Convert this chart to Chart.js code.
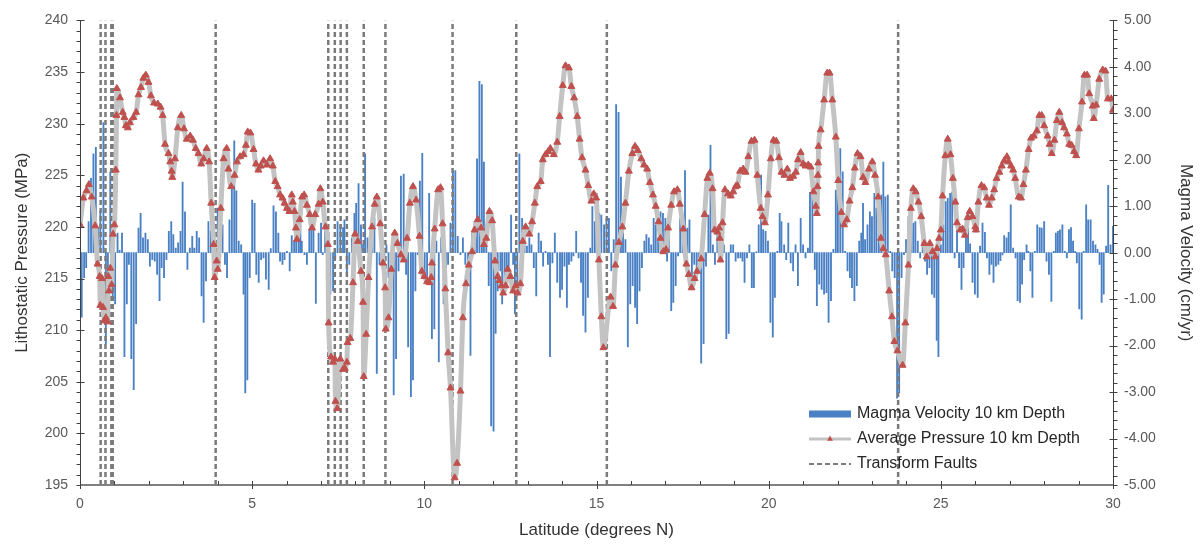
<!DOCTYPE html>
<html><head><meta charset="utf-8">
<script src="https://cdn.jsdelivr.net/npm/chart.js@4/dist/chart.umd.min.js"></script>
<style>html,body{margin:0;padding:0;background:#fff;}#wrap{width:1203px;height:548px;}</style>
</head><body><div id="wrap"><canvas id="c" width="1203" height="548"></canvas></div>
<script>
// ---------- DATA ----------
const xTicks = [0, 5, 10, 15, 20, 25, 30];
const pressureTicks = [195, 200, 205, 210, 215, 220, 225, 230, 235, 240];
const velocityTicks = [-5, -4, -3, -2, -1, 0, 1, 2, 3, 4, 5];

const seriesNames = ['Magma Velocity 10 km Depth', 'Average Pressure 10 km Depth', 'Transform Faults'];

// latitude (deg N) of transform faults
const faultLat = [0.60, 0.74, 0.91, 0.95, 3.94, 7.21, 7.40, 7.57, 7.75, 8.24, 8.87, 10.82, 12.67, 15.30, 23.76];

// [latitude, lithostatic pressure MPa]
const pressure = [
[0.00,220.2],[0.10,222.8],[0.19,223.5],[0.26,224.1],[0.34,222.9],[0.44,220.1],[0.51,216.4],[0.57,215.2],[0.59,212.4],[0.64,215.0],
[0.67,212.2],[0.71,210.9],[0.75,211.2],[0.80,210.8],[0.82,215.2],[0.84,213.8],[0.88,216.0],[0.92,214.4],[0.96,219.3],[1.00,220.2],
[1.04,225.5],[1.06,230.8],[1.07,233.4],[1.16,232.5],[1.24,231.1],[1.29,230.6],[1.33,229.8],[1.39,229.6],[1.45,230.1],[1.55,230.6],
[1.63,231.1],[1.70,232.8],[1.77,233.5],[1.84,234.4],[1.91,234.7],[1.99,234.0],[2.06,232.7],[2.15,232.0],[2.26,231.9],[2.34,231.6],
[2.40,230.8],[2.47,228.0],[2.57,227.1],[2.62,226.3],[2.66,225.4],[2.68,224.8],[2.76,226.6],[2.84,229.6],[2.94,230.8],[3.02,229.5],
[3.10,228.5],[3.20,228.8],[3.28,228.4],[3.36,227.6],[3.44,227.1],[3.52,226.1],[3.59,226.6],[3.68,227.6],[3.75,226.3],[3.81,222.3],
[3.88,218.3],[3.91,215.1],[3.97,216.7],[4.00,215.9],[4.09,221.8],[4.17,226.6],[4.26,227.6],[4.31,225.6],[4.39,223.9],[4.49,225.0],
[4.56,226.3],[4.65,226.8],[4.75,227.0],[4.82,227.9],[4.87,229.2],[4.95,229.1],
[5.04,227.5],[5.11,226.1],[5.18,225.5],[5.25,225.9],[5.33,226.4],[5.43,226.0],[5.52,226.6],[5.60,225.9],[5.67,224.4],[5.74,223.9],
[5.81,223.1],[5.88,222.8],[5.94,222.3],[6.01,221.8],[6.08,221.5],[6.15,223.1],[6.18,222.4],[6.23,221.5],[6.27,219.9],[6.30,218.8],
[6.38,220.7],[6.45,222.9],[6.51,223.1],[6.59,222.1],[6.67,221.2],[6.74,219.9],[6.83,221.2],[6.93,222.2],[6.98,223.7],[7.05,222.4],
[7.13,220.0],[7.20,218.3],[7.22,210.7],[7.29,207.4],[7.35,206.9],[7.40,207.2],[7.42,203.1],[7.47,202.4],[7.56,207.2],[7.64,206.2],
[7.69,206.3],[7.75,206.9],[7.77,208.8],[7.85,209.2],[7.93,214.6],[7.99,219.3],[8.07,218.6],[8.16,215.7],[8.22,212.7],[8.24,205.5],
[8.31,209.6],[8.38,215.1],[8.48,220.0],[8.56,222.2],[8.62,222.9],[8.72,220.3],[8.80,216.5],[8.86,214.1],[8.88,210.1],[8.96,211.2],
[9.04,215.9],[9.14,219.4],[9.22,218.4],[9.32,217.3],[9.40,216.8],[9.50,218.9],[9.58,222.3],[9.67,223.9],[9.76,222.6],[9.86,219.1],
[9.93,215.7],[10.00,215.2],[10.08,214.7],
[10.15,214.6],[10.20,215.1],[10.22,216.5],[10.30,219.8],[10.40,223.6],[10.47,223.8],[10.53,220.3],[10.61,214.0],[10.69,207.8],[10.76,204.4],
[10.88,195.7],[10.95,197.1],[11.05,204.1],[11.12,211.2],[11.21,214.5],[11.29,216.3],[11.39,217.6],[11.46,219.7],[11.55,220.7],[11.65,219.9],
[11.73,218.3],[11.80,218.9],[11.89,221.5],[11.97,220.6],[12.05,216.7],[12.13,215.2],[12.18,214.8],[12.24,214.3],[12.29,213.6],[12.36,214.3],
[12.42,215.9],[12.50,215.2],[12.58,213.8],[12.65,214.3],[12.71,213.6],[12.79,214.5],[12.86,218.6],[12.94,220.0],[13.05,219.3],[13.13,220.5],
[13.21,222.3],[13.28,223.9],[13.38,224.4],[13.44,226.5],[13.52,227.0],[13.60,227.3],[13.66,227.6],[13.76,227.0],[13.86,228.2],[13.93,230.7],
[14.02,233.7],[14.10,235.6],[14.20,235.4],[14.27,233.6],[14.35,232.5],[14.44,230.7],[14.51,228.5],[14.58,226.7],[14.68,225.5],[14.76,224.0],
[14.85,222.5],[14.92,223.2],[14.99,222.8],[15.07,216.8],[15.14,211.3],[15.20,208.3],
[15.41,213.2],[15.48,212.3],[15.55,216.3],[15.65,218.5],[15.75,220.0],[15.84,222.3],[15.94,225.4],[16.04,227.1],[16.12,227.8],[16.20,227.4],
[16.30,226.6],[16.38,226.0],[16.47,225.6],[16.55,224.3],[16.64,223.1],[16.72,222.0],[16.80,220.5],[16.86,218.9],[16.94,217.6],[17.02,217.8],
[17.08,219.9],[17.17,222.1],[17.25,223.4],[17.35,223.6],[17.42,222.2],[17.52,219.8],[17.61,216.4],[17.68,215.4],[17.76,214.1],[17.85,215.0],
[17.92,215.7],[18.04,216.9],[18.14,221.2],[18.22,224.7],[18.29,225.2],[18.37,223.7],[18.43,219.7],[18.51,219.5],[18.56,219.9],[18.58,218.9],
[18.60,216.8],[18.66,220.4],[18.73,223.6],[18.82,223.2],[18.90,223.0],[18.97,223.4],[19.04,223.9],[19.09,224.0],[19.17,225.4],[19.26,225.6],
[19.33,225.3],[19.41,226.8],[19.50,228.3],[19.59,228.4],[19.67,225.0],[19.77,221.8],[19.82,221.0],[19.89,220.4],[19.98,223.1],[20.06,226.6],
[20.14,228.4],[20.22,228.3],[20.30,226.7],
[20.37,225.3],[20.46,225.0],[20.54,225.6],[20.62,224.7],[20.71,224.9],[20.79,225.3],[20.85,226.5],[20.93,227.2],[21.00,226.1],[21.07,225.9],
[21.15,226.0],[21.22,225.8],[21.30,223.4],[21.37,222.0],[21.40,221.3],[21.42,223.9],[21.43,225.0],[21.44,226.2],[21.45,227.8],[21.51,229.4],
[21.61,232.3],[21.70,234.9],[21.77,234.9],[21.85,232.3],[21.95,228.7],[22.02,224.5],[22.11,221.4],[22.19,220.2],[22.27,220.7],[22.35,222.5],
[22.43,223.8],[22.50,225.7],[22.58,227.1],[22.67,226.8],[22.74,224.8],[22.81,224.3],[22.91,225.6],[23.01,226.3],[23.09,225.0],[23.18,222.9],
[23.26,218.9],[23.33,217.9],[23.40,217.3],[23.50,213.8],[23.58,211.3],[23.65,208.9],[23.74,208.0],[23.89,206.6],[23.97,210.7],[24.06,216.3],
[24.13,221.8],[24.20,223.7],[24.27,223.4],[24.35,222.4],[24.43,221.0],[24.52,218.4],[24.59,217.1],[24.68,218.4],[24.76,217.6],[24.84,217.1],
[24.89,217.9],[24.95,218.9],[25.00,219.7],[25.05,223.0],[25.13,226.9],[25.20,228.5],[25.28,227.0],[25.35,224.7],[25.42,222.4],
[25.47,220.4],[25.56,219.7],[25.63,219.8],[25.70,219.2],[25.78,220.9],[25.84,221.5],[25.92,221.0],[26.00,220.0],[26.02,219.7],[26.09,222.4],
[26.18,224.0],[26.26,223.8],[26.33,222.8],[26.40,222.1],[26.48,222.8],[26.55,223.6],[26.62,224.7],[26.70,225.3],[26.77,225.9],[26.84,226.4],
[26.92,226.8],[26.97,226.3],[27.04,225.9],[27.10,225.5],[27.16,224.7],[27.26,222.9],[27.33,222.8],[27.40,224.1],[27.47,225.5],[27.55,227.5],
[27.62,228.6],[27.70,228.8],[27.79,229.3],[27.86,230.8],[27.93,230.8],[28.00,229.8],[28.10,228.8],[28.16,228.0],[28.22,227.1],[28.30,228.4],
[28.37,230.3],[28.44,231.1],[28.52,230.1],[28.58,229.6],[28.66,229.0],[28.73,228.0],[28.80,227.9],[28.87,227.3],[28.93,226.9],[29.01,229.5],
[29.10,232.1],[29.17,234.7],[29.25,234.7],[29.31,232.9],[29.41,231.7],[29.44,230.5],[29.51,231.8],[29.60,234.3],[29.70,235.2],[29.78,235.1],
[29.85,232.4],[29.95,232.4],[30.00,231.3]
];

// [latitude, magma velocity cm/yr]
const velocity = [
[0.05,-1.39],[0.12,-0.54],[0.18,-0.32],[0.25,0.67],[0.32,1.60],[0.39,2.13],[0.46,2.27],[0.52,0.53],[0.59,0.90],[0.68,2.80],
[0.75,-1.96],[0.81,-1.25],[0.88,1.74],[0.95,-1.03],[1.02,-1.10],[1.09,0.42],[1.15,0.05],[1.22,0.42],[1.29,-2.24],[1.36,-1.10],
[1.42,-0.25],[1.49,-2.28],[1.56,-2.95],[1.63,-1.53],[1.70,0.53],[1.76,0.85],[1.83,0.32],[1.90,0.42],[1.97,0.28],[2.03,-0.29],
[2.10,-0.15],[2.17,-0.18],[2.24,-0.47],[2.31,-1.03],[2.37,-0.32],[2.44,-0.54],[2.51,-0.15],[2.58,0.46],[2.65,0.67],[2.71,0.39],
[2.78,0.10],[2.85,0.21],[2.92,0.46],[2.98,1.52],[3.05,0.88],[3.12,-0.36],[3.19,0.10],[3.26,0.35],[3.32,0.10],[3.39,0.46],
[3.46,0.32],[3.53,-0.93],[3.59,-1.50],[3.66,-0.61],[3.73,0.67],[3.80,0.47],[3.87,-0.54],[3.93,-0.25],[4.00,0.96],[4.07,0.17],
[4.14,0.60],[4.21,-0.25],[4.27,-0.54],[4.34,0.71],[4.41,1.38],[4.48,2.41],[4.54,1.33],[4.61,0.25],[4.68,0.17],[4.75,-0.89],
[4.80,-3.02],[4.86,-2.74],[4.93,-0.54],[5.00,1.13],[5.07,1.06],
[5.12,-0.47],[5.19,-0.64],[5.26,-0.15],[5.33,-0.11],[5.40,-0.57],[5.48,-0.79],[5.54,0.09],[5.62,1.01],[5.69,0.88],[5.76,0.42],
[5.81,-0.18],[5.88,-0.25],[5.94,-0.15],[6.01,0.03],[6.09,-0.39],[6.15,0.37],[6.22,0.25],[6.28,0.46],[6.35,0.25],[6.40,0.60],
[6.44,0.25],[6.52,-0.04],[6.59,-0.25],[6.66,0.49],[6.72,0.67],[6.78,0.53],[6.85,-1.09],[6.93,0.42],[7.00,0.64],[7.05,-0.04],
[7.12,0.96],[7.19,0.17],[7.27,-0.89],[7.35,-0.82],[7.41,-0.15],[7.48,0.67],[7.56,0.60],[7.64,0.54],[7.68,0.71],[7.75,-0.47],
[7.82,-0.25],[7.90,0.32],[7.97,0.85],[8.02,1.06],[8.09,1.49],[8.16,0.60],[8.22,0.17],[8.28,2.13],[8.35,0.32],[8.41,-0.50],
[8.48,0.49],[8.55,0.74],[8.62,-2.60],[8.70,-0.25],[8.77,0.53],[8.84,-0.32],[8.90,0.17],[8.96,-0.54],[9.03,-0.29],[9.11,-3.06],
[9.18,-2.28],[9.25,-0.39],[9.32,1.65],[9.40,1.69],[9.47,-0.47],[9.53,-2.03],[9.61,-3.10],[9.67,-2.74],[9.74,-0.82],[9.81,-0.04],
[9.87,1.54],[9.94,2.14],[10.01,-0.47],[10.08,-0.61],[10.14,1.28],
[10.22,-1.85],[10.29,-1.64],[10.35,0.25],[10.42,-2.35],[10.49,0.32],[10.56,-1.10],[10.63,-0.39],[10.69,-0.25],[10.76,0.64],[10.83,1.77],
[10.90,1.77],[10.97,0.35],[11.05,-0.04],[11.12,0.32],[11.19,-0.25],[11.27,-0.43],[11.34,-2.21],[11.39,0.42],[11.46,0.67],[11.53,2.02],
[11.60,3.69],[11.67,3.62],[11.73,1.95],[11.80,0.60],[11.87,-0.71],[11.94,-3.73],[12.01,-3.84],[12.07,-1.74],[12.13,-0.82],[12.21,-0.39],
[12.26,-1.10],[12.33,-0.82],[12.39,-0.47],[12.45,-0.32],[12.52,0.81],[12.58,-0.25],[12.63,-1.32],[12.70,-0.93],[12.76,2.13],[12.84,0.74],
[12.91,0.46],[12.98,0.14],[13.05,0.32],[13.11,0.17],[13.18,-0.32],[13.25,-0.93],[13.32,0.42],[13.39,0.25],[13.45,-0.29],[13.52,0.03],
[13.59,-0.25],[13.65,-2.24],[13.72,-0.22],[13.79,0.42],[13.86,-0.64],[13.94,-0.96],[14.00,-0.79],[14.07,-0.29],[14.14,-1.18],[14.20,-0.25],
[14.27,-0.18],[14.33,-0.07],[14.41,0.46],[14.48,-0.11],[14.55,-0.64],[14.61,-1.35],[14.68,-1.71],[14.75,-0.96],[14.82,0.10],[14.88,0.99],
[14.95,0.67],[15.01,1.28],[15.08,0.85],[15.14,0.81],[15.22,0.60],
[15.29,0.74],[15.36,0.74],[15.43,-0.39],[15.50,0.28],[15.57,3.19],[15.64,3.02],[15.71,1.63],[15.77,0.50],[15.84,0.28],[15.91,-2.03],
[15.98,-1.10],[16.05,-0.71],[16.12,-1.18],[16.18,-1.53],[16.25,-0.82],[16.32,-0.32],[16.39,0.25],[16.45,0.39],[16.52,0.32],[16.59,0.17],
[16.66,0.74],[16.72,0.60],[16.79,0.32],[16.86,0.88],[16.93,0.85],[17.00,0.74],[17.05,-0.18],[17.10,0.60],[17.17,-1.25],[17.23,-1.07],
[17.30,-0.71],[17.37,-0.07],[17.43,0.74],[17.50,0.53],[17.57,1.77],[17.64,0.53],[17.70,0.71],[17.77,-0.68],[17.84,-0.25],[17.91,-0.54],
[17.98,-0.10],[18.04,-2.38],[18.11,-1.96],[18.18,-0.29],[18.25,0.81],[18.31,2.31],[18.38,0.17],[18.44,-0.25],[18.51,0.46],[18.58,0.03],
[18.64,0.42],[18.70,0.17],[18.77,-1.85],[18.84,-1.74],[18.90,0.17],[18.97,0.17],[19.04,-0.18],[19.11,-0.11],[19.18,-0.11],[19.24,-0.18],
[19.30,-0.64],[19.37,-0.11],[19.44,0.17],[19.51,-0.75],[19.57,-0.75],[19.64,0.02],[19.71,0.60],[19.78,1.67],[19.84,0.50],[19.91,0.46],
[19.98,0.25],[20.05,-1.50],[20.12,-1.82],[20.18,-0.96],[20.25,0.03],[20.32,0.85],
[20.37,0.67],[20.45,0.17],[20.51,-0.15],[20.57,0.64],[20.64,-0.22],[20.71,-0.39],[20.78,0.17],[20.85,-0.71],[20.93,0.74],[21.00,0.17],
[21.07,-0.11],[21.14,0.10],[21.20,1.30],[21.27,1.24],[21.34,-0.36],[21.40,-1.14],[21.47,-0.68],[21.54,-0.79],[21.61,-0.89],[21.68,-0.86],
[21.74,-1.50],[21.81,-1.03],[21.88,0.07],[21.95,1.35],[22.01,1.77],[22.08,2.24],[22.15,1.74],[22.22,0.03],[22.29,-0.39],[22.36,-0.54],
[22.42,-0.75],[22.49,-1.03],[22.56,-0.71],[22.63,0.25],[22.69,0.42],[22.74,1.06],[22.80,0.28],[22.87,0.60],[22.94,0.88],[23.00,0.78],
[23.07,1.28],[23.13,0.96],[23.20,0.85],[23.27,1.24],[23.33,1.95],[23.39,1.20],[23.46,1.24],[23.53,0.03],[23.59,-0.39],[23.66,-0.54],
[23.73,-3.13],[23.79,-3.02],[23.86,-0.54],[23.93,-0.04],[23.99,0.28],[24.06,0.78],[24.13,0.92],[24.20,0.64],[24.26,0.67],[24.33,0.25],
[24.40,-0.11],[24.47,0.25],[24.54,-0.18],[24.60,-0.47],[24.67,-0.32],[24.74,-0.89],[24.81,-0.96],[24.88,-1.89],[24.93,-2.24],[25.00,0.17],
[25.07,0.60],[25.14,1.10],[25.20,1.17],[25.27,1.28],[25.33,1.31],[25.40,-0.11],
[25.47,0.53],[25.53,-0.32],[25.60,-0.79],[25.66,-0.32],[25.73,0.42],[25.79,0.60],[25.85,0.19],[25.92,-0.64],[25.99,-0.89],[26.07,-0.96],
[26.14,0.14],[26.21,0.64],[26.28,0.44],[26.34,-0.11],[26.41,-0.47],[26.47,-0.25],[26.53,-0.64],[26.60,-0.29],[26.67,-0.25],[26.73,-0.17],
[26.79,-0.05],[26.84,0.37],[26.91,0.32],[26.97,0.44],[27.03,1.03],[27.10,0.10],[27.17,-0.11],[27.23,-1.03],[27.30,-1.07],[27.36,-0.68],
[27.42,-0.15],[27.49,0.17],[27.54,0.03],[27.60,-0.39],[27.66,-0.96],[27.73,0.03],[27.80,0.60],[27.87,0.54],[27.93,0.53],[28.00,0.67],
[28.07,-0.18],[28.14,-0.47],[28.21,-1.05],[28.28,0.03],[28.34,0.42],[28.40,0.46],[28.46,0.49],[28.53,0.60],[28.60,0.03],[28.66,-0.11],
[28.72,0.50],[28.78,0.54],[28.84,0.25],[28.90,0.03],[28.95,-0.22],[29.02,-1.21],[29.09,-1.43],[29.15,0.03],[29.22,1.03],[29.28,0.71],
[29.35,0.71],[29.42,0.25],[29.49,0.17],[29.55,0.07],[29.61,-0.25],[29.67,-1.07],[29.73,-0.89],[29.80,0.14],[29.86,1.45],[29.93,0.17],
[30.00,0.57]
];

// ---------- STYLE ----------
const BAR_COLOR = '#4a80c4';
const LINE_COLOR = '#c3c3c3';
const MARK_COLOR = '#c0504d';
const FAULT_COLOR = '#7a7a7a';
const TICK_COLOR = '#595959';
const TITLE_COLOR = '#333333';
const FONT = "'Liberation Sans', Arial, sans-serif";

Chart.defaults.font.family = FONT;

const barData = velocity.map(d => ({x: d[0], y: d[1]}));
const lineData = pressure.map(d => ({x: d[0], y: d[1]}));
const faultData = [];
faultLat.forEach(x => { faultData.push({x: x, y: pressureTicks[0]}, {x: x, y: pressureTicks[pressureTicks.length - 1]}, {x: x, y: null}); });

const decor = {
  id: 'decor',
  afterDraw(chart) {
    const ctx = chart.ctx, ca = chart.chartArea;
    const xs = chart.scales.x, ys = chart.scales.y, y2 = chart.scales.y2;
    ctx.save();
    ctx.strokeStyle = '#404040'; ctx.lineWidth = 1;
    const lx = Math.round(ca.left) + 0.5, rx = Math.round(ca.right) + 0.5;
    ctx.beginPath(); ctx.moveTo(lx, ca.top); ctx.lineTo(lx, ca.bottom); ctx.stroke();
    ctx.beginPath(); ctx.moveTo(rx, ca.top); ctx.lineTo(rx, ca.bottom); ctx.stroke();
    for (let v = ys.min; v <= ys.max + 1e-9; v += 1) {
      const py = Math.round(ys.getPixelForValue(v)) + 0.5;
      const major = Math.abs(v % 5) < 1e-9;
      ctx.beginPath(); ctx.moveTo(lx - 4, py); ctx.lineTo(major ? lx + 4 : lx, py); ctx.stroke();
    }
    for (let i = 0; i <= 50; i++) {
      const v = y2.min + i * 0.2;
      const py = Math.round(y2.getPixelForValue(v)) + 0.5;
      const major = i % 5 === 0;
      ctx.beginPath(); ctx.moveTo(major ? rx - 4 : rx, py); ctx.lineTo(rx + 4, py); ctx.stroke();
    }
    ctx.strokeStyle = '#808080'; ctx.lineWidth = 2;
    const by = Math.round(ca.bottom);
    ctx.beginPath(); ctx.moveTo(ca.left, by); ctx.lineTo(ca.right, by); ctx.stroke();
    ctx.strokeStyle = '#404040'; ctx.lineWidth = 1;
    for (let v = xs.min; v <= xs.max + 1e-9; v += 1) {
      const px = Math.round(xs.getPixelForValue(v)) + 0.5;
      const major = Math.abs(v % 5) < 1e-9;
      ctx.beginPath(); ctx.moveTo(px, by - 4); ctx.lineTo(px, major ? by + 4 : by); ctx.stroke();
    }
    // legend
    const ds = chart.data.datasets;
    const x0 = 809, x1 = 851, tx = 857;
    const rows = [414, 439, 464];
    ctx.font = '16px ' + FONT;
    ctx.textAlign = 'left'; ctx.textBaseline = 'middle';
    ctx.fillStyle = BAR_COLOR; ctx.fillRect(x0, rows[0] - 3.5, x1 - x0, 7);
    ctx.strokeStyle = LINE_COLOR; ctx.lineWidth = 3;
    ctx.beginPath(); ctx.moveTo(x0, rows[1]); ctx.lineTo(x1, rows[1]); ctx.stroke();
    ctx.fillStyle = MARK_COLOR;
    const cx = (x0 + x1) / 2, r = 3.4;
    ctx.beginPath();
    ctx.moveTo(cx, rows[1] - r);
    ctx.lineTo(cx + r * 0.866, rows[1] + r * 0.5);
    ctx.lineTo(cx - r * 0.866, rows[1] + r * 0.5);
    ctx.closePath(); ctx.fill();
    ctx.strokeStyle = FAULT_COLOR; ctx.lineWidth = 2; ctx.setLineDash([5, 3]);
    ctx.beginPath(); ctx.moveTo(x0, rows[2]); ctx.lineTo(x1, rows[2]); ctx.stroke();
    ctx.setLineDash([]);
    ctx.fillStyle = '#262626';
    ctx.fillText(ds[0].label, tx, rows[0]);
    ctx.fillText(ds[1].label, tx, rows[1]);
    ctx.fillText(ds[2].label, tx, rows[2]);
    ctx.restore();
  }
};

new Chart(document.getElementById('c'), {
  type: 'bar',
  data: {
    datasets: [
      { type: 'bar', label: seriesNames[0], data: barData, yAxisID: 'y2', xAxisID: 'x',
        backgroundColor: BAR_COLOR, borderWidth: 0, barThickness: 1.2, order: 3 },
      { type: 'line', label: seriesNames[1], data: lineData, yAxisID: 'y', xAxisID: 'x',
        borderColor: LINE_COLOR, borderWidth: 5, cubicInterpolationMode: 'monotone',
        pointStyle: 'triangle', pointRadius: 4, pointBorderWidth: 1,
        pointBackgroundColor: MARK_COLOR, pointBorderColor: MARK_COLOR, order: 1 },
      { type: 'line', label: seriesNames[2], data: faultData, yAxisID: 'y', xAxisID: 'x',
        borderColor: FAULT_COLOR, borderWidth: 2.5, borderDash: [5, 3], pointRadius: 0,
        spanGaps: false, order: 2 }
    ]
  },
  options: {
    responsive: false,
    animation: false,
    events: [],
    layout: { padding: { top: 16, left: 0, right: 0, bottom: 0 } },
    plugins: { legend: { display: false }, tooltip: { enabled: false } },
    scales: {
      x: {
        type: 'linear', position: 'bottom', min: 0, max: 30, offset: false,
        afterBuildTicks: s => { s.ticks = xTicks.map(v => ({ value: v })); },
        ticks: { autoSkip: false, maxRotation: 0, padding: 11, color: TICK_COLOR, font: { size: 14 } },
        grid: { display: false, drawTicks: false }, border: { display: false },
        title: { display: true, text: 'Latitude (degrees N)', color: TITLE_COLOR, font: { size: 17 }, padding: { top: 0, bottom: 7 } },
        afterFit: s => { s.height = 63; }
      },
      y: {
        type: 'linear', position: 'left', min: 195, max: 240,
        afterBuildTicks: s => { s.ticks = pressureTicks.map(v => ({ value: v })); },
        ticks: { padding: 12, color: TICK_COLOR, font: { size: 14 } },
        grid: { display: false, drawTicks: false }, border: { display: false },
        title: { display: true, text: 'Lithostatic Pressure (MPa)', color: TITLE_COLOR, font: { size: 17 }, padding: { top: 12, bottom: 0 } },
        afterFit: s => { s.width = 80; }
      },
      y2: {
        type: 'linear', position: 'right', min: -5, max: 5,
        afterBuildTicks: s => { s.ticks = velocityTicks.map(v => ({ value: v })); },
        ticks: { padding: 11, color: TICK_COLOR, font: { size: 14 }, callback: v => Number(v).toFixed(2) },
        grid: { display: false, drawTicks: false }, border: { display: false },
        title: { display: true, text: 'Magma Velocity (cm/yr)', color: TITLE_COLOR, font: { size: 17 }, padding: { top: 7, bottom: 0 } },
        afterFit: s => { s.width = 90; }
      }
    }
  },
  plugins: [decor]
});
</script>
</body></html>
